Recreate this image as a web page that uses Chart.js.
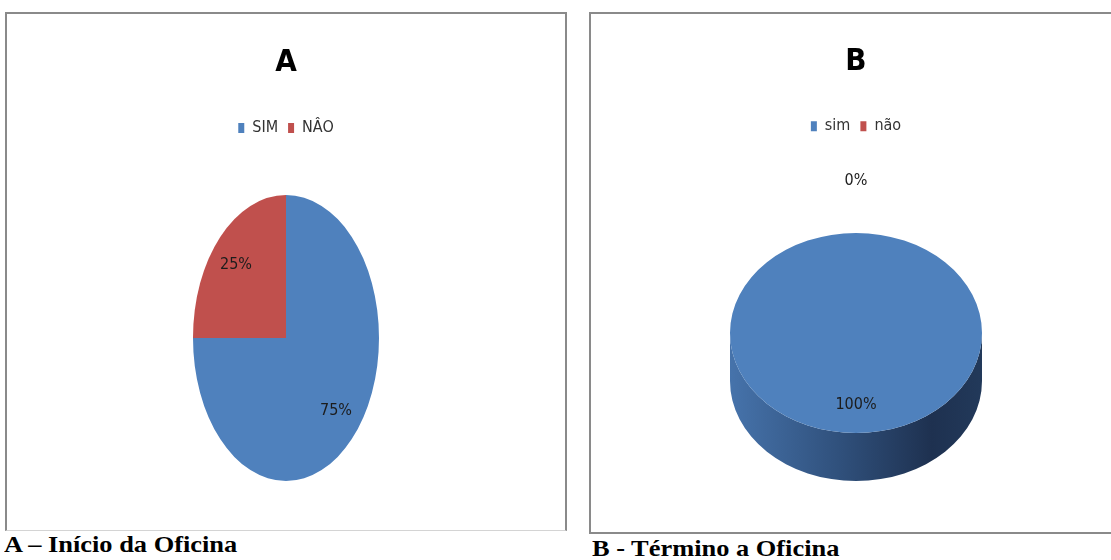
<!DOCTYPE html>
<html>
<head>
<meta charset="utf-8">
<script src="https://cdn.jsdelivr.net/npm/chart.js@4.4.1/dist/chart.umd.min.js"></script>
<style>
  html, body { margin: 0; padding: 0; background: #fff; overflow: hidden; }
  body { width: 1111px; height: 560px; position: relative; }
  .panel { position: absolute; box-sizing: border-box; background: #fff; }
  #panelA { left: 5px; top: 12px; width: 562px; height: 519px;
            border: 2px solid #8a8a8a; border-bottom: 1px solid #d4d4d4; }
  #panelB { left: 589px; top: 12px; width: 560px; height: 522px;
            border: 2px solid #8a8a8a; }
  .caption { position: absolute; font: bold 24px "Liberation Serif", "Times New Roman", serif;
             color: #000; transform: scaleX(1.1); transform-origin: left top; white-space: nowrap; }
</style>
</head>
<body>
<div class="panel" id="panelA"><canvas id="chartA" width="558" height="516"></canvas></div>
<div class="panel" id="panelB"><canvas id="chartB" width="530" height="518"></canvas></div>
<div class="caption" style="left:4px; top:531px;">A – Início da Oficina</div>
<div class="caption" style="left:592px; top:535px;">B - Término a Oficina</div>

<script>
// chart A - start of workshop
const labelsA = ['SIM', 'NÂO'];
const valuesA = [75, 25];
// chart B - end of workshop
const labelsB = ['sim', 'não'];
const valuesB = [100, 0];

const colors = ['#4f81bd', '#c0504d'];
const narrow = '"Liberation Sans Narrow", "DejaVu Sans Condensed", "Roboto Condensed", sans-serif';

// squash/stretch the pie into an ellipse and, for B, add a 3D side
function ellipsePlugin(scaleY, depth) {
    return {
        id: 'ellipse',
        beforeDatasetsDraw(chart) {
            const ctx = chart.ctx;
            const arcs = chart.getDatasetMeta(0).data;
            if (!arcs.length) return;
            const cx = arcs[0].x, cy = arcs[0].y;
            ctx.save();
            ctx.translate(cx, cy);
            ctx.scale(1, scaleY);
            ctx.translate(-cx, -cy);
            if (depth > 0) {
                const d = depth / scaleY;
                arcs.forEach(function(arc) {
                    const a0 = Math.max(arc.startAngle, 0);
                    const a1 = Math.min(arc.endAngle, Math.PI);
                    if (a1 <= a0) return;
                    const r = arc.outerRadius;
                    const g = ctx.createLinearGradient(cx - r, 0, cx + r, 0);
                    g.addColorStop(0, '#4673ab');
                    g.addColorStop(0.45, '#2f4f7a');
                    g.addColorStop(0.8, '#1e3150');
                    g.addColorStop(1, '#22395a');
                    ctx.beginPath();
                    ctx.arc(cx, cy + d, r, a0, a1);
                    ctx.arc(cx, cy, r, a1, a0, true);
                    ctx.closePath();
                    ctx.fillStyle = g;
                    ctx.fill();
                });
            }
        },
        afterDatasetsDraw(chart) {
            chart.ctx.restore();
        }
    };
}

// percentage labels inside the slices
function labelPlugin(scaleY) {
    return {
        id: 'pctLabels',
        afterDraw(chart) {
            const ctx = chart.ctx;
            const ds = chart.data.datasets[0];
            const total = ds.data.reduce((a, b) => a + b, 0);
            ctx.save();
            ctx.font = '16px ' + narrow;
            ctx.fillStyle = '#1c1c1c';
            ctx.textAlign = 'center';
            ctx.textBaseline = 'middle';
            chart.getDatasetMeta(0).data.forEach(function(arc, i) {
                const v = ds.data[i];
                const mid = (arc.startAngle + arc.endAngle) / 2;
                const r = arc.outerRadius;
                let x, y;
                if (v === 0) {
                    x = arc.x;
                    y = arc.y - r * scaleY - 52;
                } else {
                    x = arc.x + Math.cos(mid) * r * 0.76;
                    y = arc.y + Math.sin(mid) * r * scaleY * 0.72;
                }
                ctx.fillText(Math.round(v / total * 100) + '%', x, y);
            });
            ctx.restore();
        }
    };
}

function makeChart(id, title, labels, values, opts) {
    const canvas = document.getElementById(id);
    const chart = new Chart(canvas.getContext('2d'), {
        type: 'pie',
        data: {
            labels: labels,
            datasets: [{
                data: values,
                backgroundColor: colors,
                borderWidth: 0,
                radius: opts.radius
            }]
        },
        options: {
            responsive: false,
            animation: false,
            events: [],
            layout: { padding: { top: 0, bottom: 0 } },
            plugins: {
                title: {
                    display: true,
                    text: title,
                    color: '#000',
                    font: { family: narrow, size: 31, weight: 'bold' },
                    padding: { top: 29, bottom: 28 }
                },
                legend: {
                    display: true,
                    position: 'top',
                    labels: {
                        color: '#333',
                        font: { family: narrow, size: 16 },
                        boxWidth: 6,
                        boxHeight: 10,
                        padding: 10
                    }
                },
                tooltip: { enabled: false }
            }
        },
        plugins: [ellipsePlugin(opts.scaleY, opts.depth), labelPlugin(opts.scaleY)]
    });
    // put the pie centre where it sits in the picture
    const area = chart.chartArea;
    const shift = 2 * opts.cy - (area.top + area.bottom);
    if (shift > 0) {
        chart.options.layout.padding.top = shift;
    } else {
        chart.options.layout.padding.bottom = -shift;
    }
    chart.update('none');
    return chart;
}

makeChart('chartA', 'A', labelsA, valuesA, { radius: 93, scaleY: 143 / 93, depth: 0, cy: 324 });
makeChart('chartB', 'B', labelsB, valuesB, { radius: 126, scaleY: 100 / 126, depth: 48, cy: 319 });
</script>
</body>
</html>
